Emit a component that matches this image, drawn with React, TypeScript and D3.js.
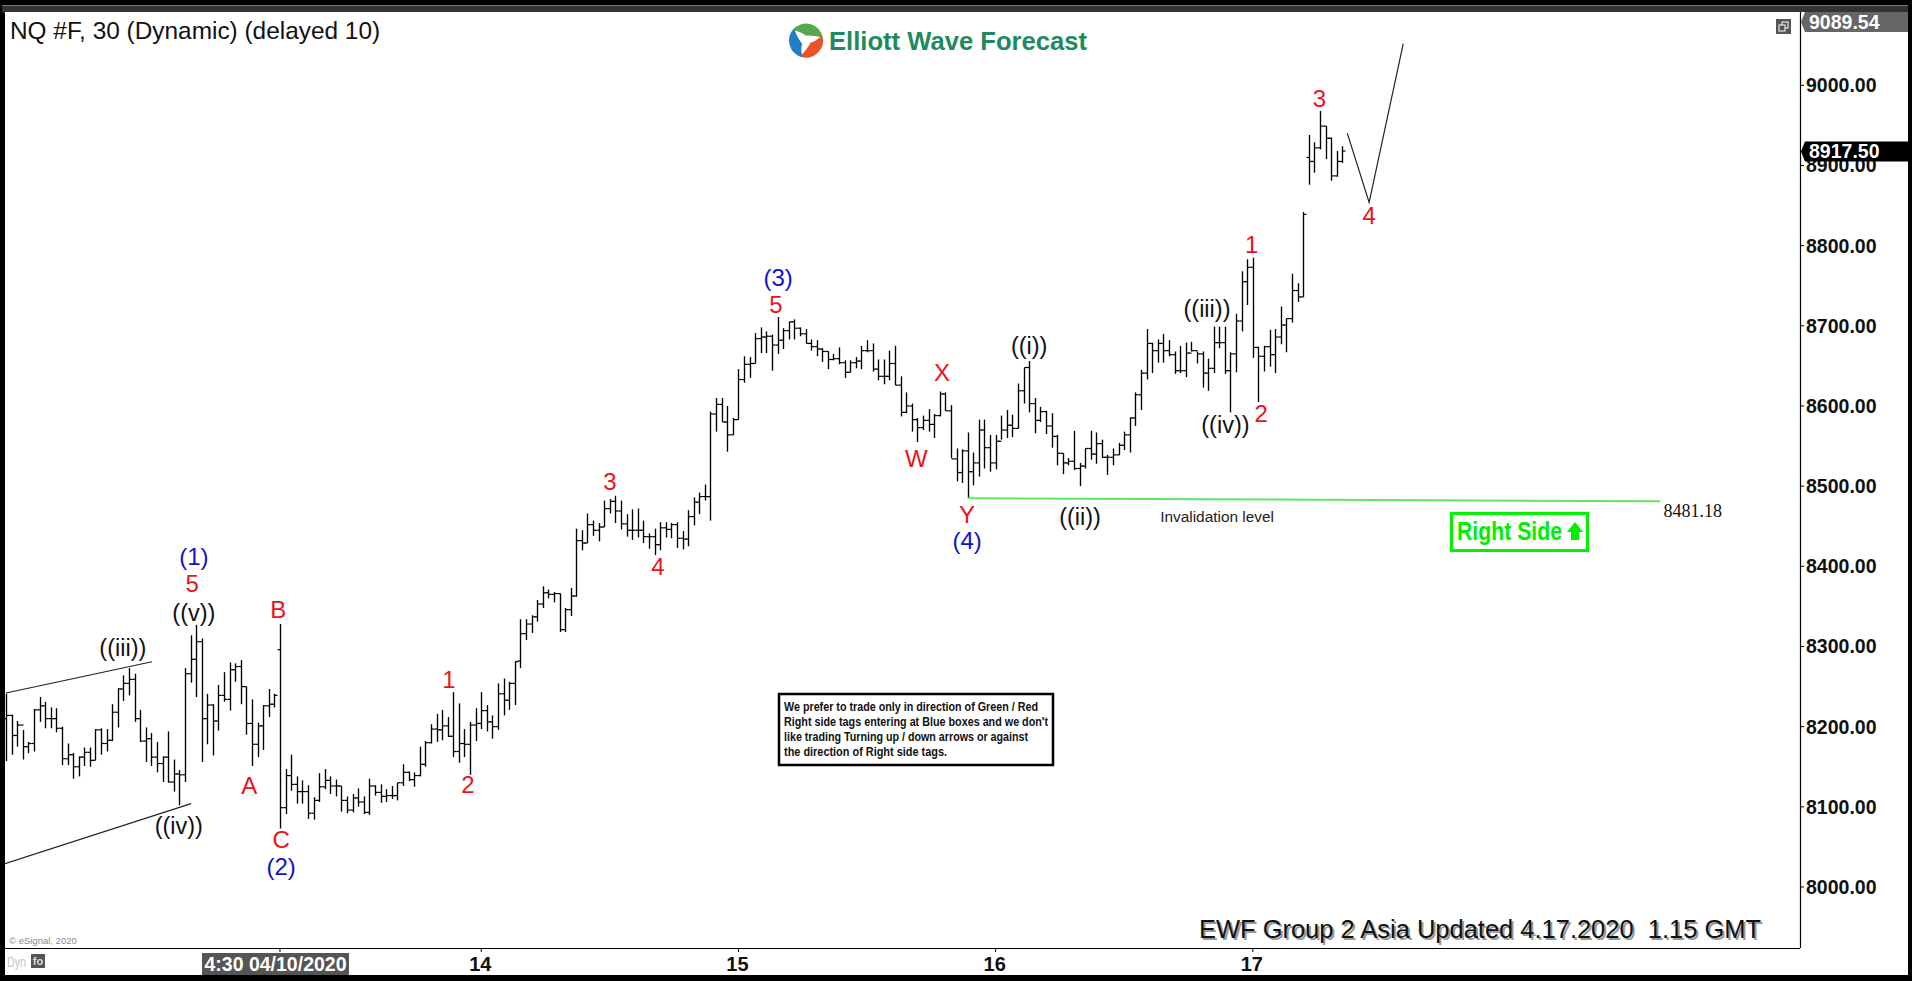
import React from "react";
import * as d3 from "d3";

const W = 1912, H = 981;

const highs = [8241,8215,8207,8196,8181,8222,8237,8231,8224,8223,8200,8179,8167,8163,8174,8174,8197,8198,8197,8228,8248,8264,8273,8266,8221,8199,8192,8181,8163,8194,8159,8146,8273,8314,8327,8310,8241,8228,8252,8268,8280,8279,8283,8250,8234,8205,8227,8247,8241,8328,
8147,8165,8138,8133,8127,8112,8142,8147,8138,8134,8126,8113,8116,8123,8113,8135,8127,8128,8122,8126,8130,8153,8144,8143,8175,8182,8203,8216,8221,8212,8243,8229,8197,8206,8223,8243,8227,8214,8254,8260,8256,8282,
8334,8334,8339,8358,8375,8371,8368,8366,8348,8373,8447,8445,8466,8457,8454,8482,8484,8488,8482,8465,8471,8472,8457,8441,8447,8455,8455,8454,8455,8444,8470,8486,8492,8502,
8593,8610,8610,8600,8585,8646,8662,8661,8691,8698,8693,8689,8711,8697,8705,8708,8698,8696,8683,8682,8672,8668,8665,8673,8657,8657,8661,8675,8682,8678,8658,8658,8669,8675,8637,8617,8603,8585,8588,8596,8590,8618,8617,8601,8547,8546,8567,8542,8583,8583,8564,8564,8588,8595,8589,8628,8648,8656,8610,8599,8594,8591,8564,8541,8535,8569,8529,8547,8569,8567,8558,8539,8547,8554,8568,8586,8617,8645,8696,8679,8683,8690,8682,8668,8675,8679,8680,8668,8668,8659,8699,8699,8699,8667,
8715,8768,8783,8785,8674,8675,8695,8696,8724,8709,8765,8753,8842,
8938,8929,8968,8949,8935,8918,8924];

const lows = [8157,8165,8175,8159,8167,8169,8206,8198,8198,8193,8152,8152,8135,8138,8151,8150,8158,8165,8169,8182,8199,8232,8239,8206,8181,8156,8151,8143,8131,8130,8119,8102,8131,8255,8237,8156,8178,8164,8195,8231,8220,8256,8228,8190,8151,8162,8171,8212,8224,8073,
8091,8120,8104,8104,8085,8084,8106,8122,8116,8113,8094,8092,8093,8100,8091,8090,8114,8105,8106,8110,8108,8126,8132,8125,8138,8150,8179,8181,8183,8187,8162,8155,8162,8140,8182,8197,8194,8185,8196,8214,8221,8227,
8273,8308,8317,8331,8348,8360,8355,8318,8318,8338,8362,8420,8429,8438,8431,8449,8466,8454,8446,8437,8433,8436,8429,8422,8414,8420,8436,8435,8423,8421,8425,8451,8465,8482,
8457,8568,8580,8543,8564,8583,8629,8635,8653,8666,8666,8644,8665,8671,8683,8683,8687,8678,8669,8662,8655,8646,8657,8652,8635,8642,8647,8646,8667,8643,8632,8627,8632,8626,8587,8591,8568,8555,8570,8568,8560,8587,8594,8535,8506,8504,8485,8501,8512,8522,8518,8521,8558,8560,8561,8572,8603,8592,8566,8580,8565,8548,8526,8515,8526,8520,8500,8522,8533,8528,8535,8514,8526,8539,8545,8542,8575,8595,8633,8641,8654,8654,8662,8640,8641,8636,8668,8653,8623,8619,8641,8672,8640,8592,
8642,8693,8726,8660,8605,8643,8649,8641,8677,8667,8704,8730,8736,
8876,8891,8920,8908,8881,8886,8903];

const opens = [8210,8214,8189,8202,8175,8179,8221,8226,8210,8210,8198,8160,8165,8150,8162,8168,8158,8196,8179,8183,8218,8247,8254,8259,8210,8182,8185,8162,8154,8162,8131,8141,8140,8266,8284,8306,8210,8227,8207,8239,8234,8271,8275,8250,8204,8178,8201,8226,8228,8296,
8099,8139,8128,8119,8119,8092,8108,8125,8133,8126,8126,8108,8096,8111,8106,8093,8126,8118,8113,8114,8114,8130,8143,8134,8139,8153,8180,8197,8196,8201,8188,8169,8179,8178,8202,8204,8220,8206,8200,8241,8233,8254,
8282,8316,8328,8337,8353,8367,8365,8366,8321,8346,8363,8432,8429,8452,8445,8449,8472,8481,8469,8453,8445,8445,8445,8437,8437,8427,8448,8446,8452,8435,8434,8462,8480,8487,
8487,8590,8602,8580,8564,8583,8633,8652,8653,8684,8686,8687,8676,8682,8694,8705,8697,8690,8678,8674,8671,8668,8658,8659,8654,8642,8654,8656,8669,8669,8646,8637,8637,8653,8626,8592,8600,8583,8573,8582,8577,8588,8615,8594,8534,8517,8544,8518,8529,8570,8548,8529,8556,8570,8576,8572,8619,8648,8603,8582,8593,8575,8562,8541,8529,8531,8522,8525,8547,8540,8553,8536,8536,8539,8551,8564,8585,8614,8641,8678,8669,8678,8669,8664,8644,8644,8666,8669,8665,8641,8647,8679,8679,8644,
8665,8706,8755,8773,8673,8662,8674,8664,8686,8701,8709,8744,8736,
8910,8905,8922,8949,8934,8887,8905];

const closes = [8214,8189,8202,8175,8179,8221,8226,8210,8210,8198,8160,8165,8150,8162,8168,8158,8196,8179,8183,8218,8247,8254,8259,8210,8182,8185,8162,8154,8162,8131,8141,8140,8266,8284,8306,8210,8227,8207,8239,8234,8271,8275,8250,8204,8178,8201,8226,8228,8239,8099,
8139,8128,8119,8119,8092,8108,8125,8133,8126,8126,8108,8096,8111,8106,8093,8126,8118,8113,8114,8114,8130,8143,8134,8139,8153,8180,8197,8196,8201,8188,8169,8179,8178,8202,8204,8220,8206,8200,8241,8233,8254,8281,
8316,8328,8337,8353,8367,8365,8366,8321,8346,8363,8432,8429,8452,8445,8449,8472,8481,8469,8453,8445,8445,8445,8437,8437,8427,8448,8446,8452,8435,8434,8462,8480,8487,8487,
8590,8602,8580,8564,8583,8633,8652,8653,8684,8686,8687,8676,8682,8694,8705,8697,8690,8678,8674,8671,8668,8658,8659,8654,8642,8654,8656,8669,8669,8646,8637,8637,8653,8626,8592,8600,8583,8573,8582,8577,8588,8615,8594,8534,8517,8544,8518,8529,8570,8548,8529,8556,8570,8576,8572,8619,8648,8603,8582,8593,8575,8562,8541,8529,8531,8522,8525,8547,8540,8553,8536,8536,8539,8551,8564,8585,8614,8641,8678,8669,8678,8669,8664,8644,8644,8666,8669,8665,8641,8647,8679,8679,8644,8665,
8706,8755,8773,8673,8662,8674,8664,8686,8701,8709,8744,8736,8839,
8905,8922,8949,8934,8887,8905,8918];

const priceTicks = [8000, 8100, 8200, 8300, 8400, 8500, 8600, 8700, 8800, 8900, 9000];
const dateTickBars = [85, 131, 177, 223];
const dateTickLabels = ["14", "15", "16", "17"];
const cursorBar = 49;
const cursorLabel = "4:30 04/10/2020";
const lastPrice = 8917.5;
const topPrice = 9089.54;
const invalidation = 8481.18;

const RED = "#e8141c", BLUE = "#1111cc", BLACK = "#111";
const waveText = ["(1)","5","((v))","((iii))","((iv))","B","A","C","(2)","1","2","3","4","(3)","5","W","X","Y","(4)","((i))","((ii))","((iii))","((iv))","2","1","3","4"];
const waveColor = [BLUE,RED,BLACK,BLACK,BLACK,RED,RED,RED,BLUE,RED,RED,RED,RED,BLUE,RED,RED,RED,RED,BLUE,BLACK,BLACK,BLACK,BLACK,RED,RED,RED,RED];
const waveBar = [33.6,33.3,33.6,20.9,30.9,48.7,43.5,49.2,49.2,79.2,82.6,108,116.6,138.1,137.7,162.8,167.4,171.9,171.9,183,192.1,214.8,218.1,224.5,222.8,234.9,243.8];
const wavePrice = [8412,8378,8342,8298,8076,8346,8126,8059,8025,8259,8128,8506,8400,8760,8727,8535,8642,8465,8432,8675,8462,8721,8576,8590,8802,8983,8838];

const channelUpperBars = [0, 26.1], channelUpperPrices = [8242, 8281];
const channelLowerBars = [-0.2, 33.1], channelLowerPrices = [8029, 8104];
const projectionBars = [239.9, 243.8, 249.9], projectionPrices = [8940, 8854, 9052];
const greenBars = [172, 295.9], greenPrices = [8485, invalidation];

const noteLines = [
  "We prefer to trade only in direction of Green / Red",
  "Right side tags entering at Blue boxes and we don't",
  "like trading Turning up / down arrows or against",
  "the direction of Right side tags.",
];
const noteWidths = [254, 264, 244, 163];

const x = d3.scaleLinear().domain([0, 239]).range([6, 1342.3]);
const y = d3.scaleLinear().domain([8000, 9000]).range([887, 85.3]);
const pathLine = d3.line<[number, number]>().x((d) => x(d[0])).y((d) => y(d[1]));
const zip = (a: number[], b: number[]) => a.map((v, i) => [v, b[i]] as [number, number]);

const FONT = "'Liberation Sans', Arial, sans-serif";
const L = 5, R = 1800, T = 12, B = 948, OUTER = 1908, BOTTOM = 975;

function PriceTag({ py, fill, label }: { py: number; fill: string; label: string }) {
  const tagTop = Math.max(T, py - 10);
  const c = tagTop + 10;
  return (
    <g>
      <path d={`M${R + 1},${c} L${R + 5},${tagTop} L${OUTER},${tagTop} L${OUTER},${tagTop + 20} L${R + 5},${tagTop + 20} Z`} fill={fill} />
      <text x={R + 9} y={c + 7} fontSize={19.5} fontWeight="bold" fill="#fff">{label}</text>
    </g>
  );
}

// One tapered blade of the logo's swirl, from a polar helper.
function blade(cx: number, cy: number, s: number, e: number) {
  const P = (r: number, a: number) => `${cx + r * Math.sin(a)},${cy - r * Math.cos(a)}`;
  return `M${P(17, s)} A17,17 0 0 1 ${P(17, e)} Q${P(9, e - 0.5)} ${P(5, e - 1.5)} Q${P(10, s + 0.4)} ${P(17, s)} Z`;
}

export default function App() {
  const logoCx = 806, logoCy = 40.5;
  const logoArcs = [
    { s: -0.9, e: 1.4, fill: "#55a84c" },
    { s: 1.25, e: 3.5, fill: "#e8552a" },
    { s: 3.35, e: 5.5, fill: "#1f80c4" },
  ];
  return (
    <svg width={W} height={H} viewBox={`0 0 ${W} ${H}`} style={{ position: "absolute", left: 0, top: 0 }} fontFamily={FONT}>
      <defs>
        <clipPath id="plot"><rect x={L} y={T} width={R - L} height={B - T} /></clipPath>
      </defs>
      <rect width={W} height={H} fill="#000" />
      <rect x={2} y={5} width={OUTER - 2} height={8} rx={3} fill="#333" />
      <rect x={2} y={5} width={OUTER - 2} height={1} fill="#777" />
      <rect x={L} y={T} width={OUTER - L} height={BOTTOM - T} fill="#fff" />

      <text x={10} y={38.5} fontSize={24.4} fill="#111">NQ #F, 30 (Dynamic) (delayed 10)</text>

      <g>
        {logoArcs.map((a, i) => (
          <path key={i} fill={a.fill} d={blade(logoCx, logoCy, a.s, a.e)} />
        ))}
        <text x={829} y={50} fontSize={25} fontWeight="bold" fill="#1f8a5f" textLength={258} lengthAdjust="spacingAndGlyphs">Elliott Wave Forecast</text>
      </g>

      <g stroke="#000" clipPath="url(#plot)">
        {highs.map((h, i) => {
          const cx = Math.round(x(i)) + 0.5;
          return (
            <g key={i}>
              <line x1={cx} x2={cx} y1={y(h)} y2={y(lows[i])} strokeWidth={1.35} />
              <line x1={cx - 3} x2={cx} y1={y(opens[i])} y2={y(opens[i])} strokeWidth={1.2} />
              <line x1={cx} x2={cx + 3} y1={y(closes[i])} y2={y(closes[i])} strokeWidth={1.2} />
            </g>
          );
        })}
      </g>

      <g clipPath="url(#plot)" fill="none" stroke="#222" strokeWidth={1.2}>
        <path d={pathLine(zip(channelUpperBars, channelUpperPrices)) as string} />
        <path d={pathLine(zip(channelLowerBars, channelLowerPrices)) as string} />
        <path d={pathLine(zip(projectionBars, projectionPrices)) as string} />
      </g>
      <path d={pathLine(zip(greenBars, greenPrices)) as string} fill="none" stroke="#5fe85f" strokeWidth={2} />

      {waveText.map((t, i) => (
        <text key={i} x={x(waveBar[i])} y={y(wavePrice[i])} textAnchor="middle" dominantBaseline="central"
          fontSize={waveColor[i] === BLACK ? 23.5 : 24} fill={waveColor[i]}>{t}</text>
      ))}

      <text x={x(216.6)} y={y(8462)} textAnchor="middle" dominantBaseline="central" fontSize={15.4} fill="#222">Invalidation level</text>
      <text x={x(295.9) + 3} y={y(invalidation) + 16} fontSize={18} fill="#111" fontFamily="'Liberation Serif', serif">8481.18</text>

      <g>
        <rect x={1451.5} y={513.5} width={136} height={37} fill="#fff" stroke="#00f000" strokeWidth={3} />
        <text x={1457} y={540} fontSize={25} fontWeight="bold" fill="#00ee00" textLength={105} lengthAdjust="spacingAndGlyphs">Right Side</text>
        <path d="M1575,522 L1583,532 L1579,532 L1579,540 L1571,540 L1571,532 L1567,532 Z" fill="#00ee00" />
      </g>

      <g>
        <rect x={779} y={694} width={274} height={71} fill="#fff" stroke="#000" strokeWidth={2.5} />
        {noteLines.map((l, i) => (
          <text key={i} x={784} y={711 + i * 15} fontSize={12} fontWeight="bold" fill="#111" textLength={noteWidths[i]} lengthAdjust="spacingAndGlyphs">{l}</text>
        ))}
      </g>

      <text x={1199} y={938} fontSize={26} fill="#999" style={{ whiteSpace: "pre" }} transform="translate(2,2)" textLength={562} lengthAdjust="spacingAndGlyphs">EWF Group 2 Asia Updated 4.17.2020  1.15 GMT</text>
      <text x={1199} y={938} fontSize={26} fill="#111" style={{ whiteSpace: "pre" }} textLength={562} lengthAdjust="spacingAndGlyphs">EWF Group 2 Asia Updated 4.17.2020  1.15 GMT</text>

      <text x={9} y={944} fontSize={9.5} fill="#8a8a8a">© eSignal, 2020</text>

      <line x1={R + 0.5} x2={R + 0.5} y1={T} y2={B} stroke="#000" strokeWidth={1.2} />
      <line x1={L} x2={R} y1={B + 0.5} y2={B + 0.5} stroke="#000" strokeWidth={1.2} />

      {priceTicks.map((p) => (
        <g key={p}>
          <line x1={R} x2={R + 4} y1={y(p)} y2={y(p)} stroke="#000" />
          <text x={R + 6} y={y(p) + 7} fontSize={19.5} fontWeight="bold" fill="#111">{p.toFixed(2)}</text>
        </g>
      ))}
      <PriceTag py={y(topPrice)} fill="#666" label={topPrice.toFixed(2)} />
      <PriceTag py={y(lastPrice)} fill="#000" label={lastPrice.toFixed(2)} />

      <g>
        <rect x={1776} y={19} width={15} height={15} fill="#555" />
        <rect x={1782} y={22} width={6} height={6} fill="none" stroke="#fff" strokeWidth={1} />
        <rect x={1779} y={25} width={6} height={6} fill="#555" stroke="#fff" strokeWidth={1} />
      </g>

      {dateTickBars.map((b, i) => (
        <g key={b}>
          <line x1={x(b)} x2={x(b)} y1={B} y2={B + 4} stroke="#000" />
          <text x={x(b) - 1} y={971} textAnchor="middle" fontSize={20} fontWeight="bold" fill="#111">{dateTickLabels[i]}</text>
        </g>
      ))}
      <line x1={x(cursorBar)} x2={x(cursorBar)} y1={B} y2={B + 4} stroke="#000" />
      <rect x={202} y={953} width={147} height={22} fill="#555" />
      <text x={275.5} y={971} textAnchor="middle" fontSize={19.5} fontWeight="bold" fill="#fff">{cursorLabel}</text>

      <text x={7} y={967} fontSize={14} fill="#c4c4c4" textLength={19} lengthAdjust="spacingAndGlyphs">Dyn</text>
      <rect x={31} y={954} width={14} height={14} fill="#555" />
      <text x={38} y={965} textAnchor="middle" fontSize={11} fontWeight="bold" fill="#ddd">fo</text>
    </svg>
  );
}
